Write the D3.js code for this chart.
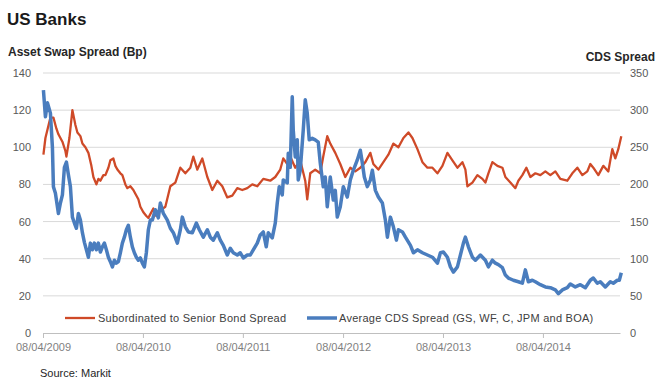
<!DOCTYPE html>
<html>
<head>
<meta charset="utf-8">
<script src="https://cdn.jsdelivr.net/npm/d3@7"></script>
<style>
  body { margin: 0; background: #fff; }
  text { font-family: "Liberation Sans", Arial, sans-serif; }
</style>
</head>
<body>
<div id="chart"></div>
<script>
// decimal years -> values
var bondYears = [2009.27,2009.29,2009.34,2009.37,2009.40,2009.42,2009.46,2009.49,2009.50,2009.53,2009.56,2009.59,2009.61,2009.64,2009.66,2009.69,2009.72,2009.75,2009.77,2009.80,2009.82,2009.84,2009.87,2009.89,2009.92,2009.94,2009.97,2009.99,
  2010.01,2010.04,2010.06,2010.09,2010.11,2010.14,2010.17,2010.19,2010.22,2010.24,2010.27,2010.30,2010.32,2010.34,2010.37,2010.40,2010.44,2010.49,2010.54,2010.59,2010.64,2010.69,2010.74,2010.77,2010.81,2010.86,2010.91,2010.96,
  2011.01,2011.06,2011.11,2011.16,2011.21,2011.26,2011.31,2011.36,2011.41,2011.47,2011.54,2011.59,2011.64,2011.67,2011.71,2011.74,2011.79,2011.84,2011.89,2011.91,2011.94,2011.99,
  2012.04,2012.07,2012.11,2012.14,2012.19,2012.24,2012.29,2012.34,2012.39,2012.44,2012.49,2012.54,2012.57,2012.62,2012.67,2012.72,2012.77,2012.82,2012.87,2012.92,2012.96,
  2013.01,2013.06,2013.11,2013.16,2013.21,2013.26,2013.31,2013.36,2013.41,2013.46,2013.49,2013.51,2013.56,2013.61,2013.66,2013.69,2013.72,2013.76,2013.81,2013.86,2013.89,2013.94,2013.99,
  2014.02,2014.06,2014.10,2014.14,2014.19,2014.24,2014.29,2014.34,2014.39,2014.44,2014.51,2014.56,2014.61,2014.66,2014.71,2014.74,2014.77,2014.82,2014.87,2014.92,2014.96,2014.99,2015.02,2015.05]
var bondSpread = [96,105,116,116,110,107,103,98,95,105,120,112,108,106,102,100,97,90,84,80,83,82,85,85,89,93,94,90,
  88,86,85,80,78,79,77,75,72,68,65,63,62,64,67,63,66,68,79,81,89,86,89,95,88,94,84,77,
  82,79,73,74,78,77,78,80,79,83,82,84,88,94,91,95,89,93,82,72,86,88,
  86,95,106,102,97,91,84,89,87,89,92,97,91,88,92,96,102,100,105,108,105,
  99,92,89,89,86,90,97,93,89,92,88,79,81,85,83,81,86,92,90,89,84,81,78,
  82,85,89,84,86,85,87,85,87,83,82,86,89,85,87,91,89,85,90,87,99,94,99,106]

var cdsYears = [2009.27,2009.29,2009.31,2009.34,2009.36,2009.37,2009.39,2009.41,2009.42,2009.44,2009.46,2009.48,2009.50,2009.52,2009.54,2009.56,2009.58,2009.60,2009.62,2009.64,2009.66,2009.68,2009.70,2009.72,2009.74,2009.76,2009.78,2009.80,2009.82,2009.84,2009.86,2009.88,2009.90,2009.92,2009.94,2009.96,2009.98,
  2010.00,2010.02,2010.04,2010.06,2010.08,2010.10,2010.12,2010.14,2010.16,2010.18,2010.20,2010.22,2010.24,2010.26,2010.28,2010.30,2010.32,2010.34,2010.36,2010.39,2010.42,2010.44,2010.47,2010.51,2010.54,2010.57,2010.61,2010.64,2010.66,2010.69,2010.72,2010.76,2010.80,2010.83,2010.87,2010.91,2010.94,2010.97,
  2011.01,2011.04,2011.07,2011.11,2011.14,2011.17,2011.21,2011.24,2011.27,2011.31,2011.34,2011.37,2011.41,2011.44,2011.47,2011.50,2011.52,2011.56,2011.59,2011.61,2011.63,2011.66,2011.67,2011.71,2011.72,2011.74,2011.76,2011.77,2011.79,2011.81,2011.82,2011.84,2011.87,2011.89,2011.91,2011.93,2011.96,2011.99,
  2012.02,2012.04,2012.07,2012.09,2012.11,2012.14,2012.17,2012.19,2012.21,2012.24,2012.27,2012.31,2012.34,2012.37,2012.41,2012.44,2012.46,2012.48,2012.51,2012.54,2012.56,2012.59,2012.62,2012.66,2012.69,2012.71,2012.74,2012.77,2012.80,2012.82,2012.86,2012.89,2012.94,2012.97,
  2013.01,2013.06,2013.11,2013.16,2013.21,2013.24,2013.27,2013.31,2013.34,2013.37,2013.41,2013.44,2013.47,2013.49,2013.52,2013.56,2013.59,2013.64,2013.69,2013.72,2013.76,2013.79,2013.82,2013.86,2013.89,2013.92,2013.97,
  2014.02,2014.06,2014.09,2014.12,2014.16,2014.19,2014.24,2014.29,2014.34,2014.39,2014.42,2014.46,2014.51,2014.54,2014.59,2014.64,2014.69,2014.74,2014.77,2014.81,2014.84,2014.89,2014.94,2014.97,2015.01,2015.03,2015.05]
var cdsSpread = [327,291,310,296,250,197,188,170,161,175,186,223,230,213,197,156,148,141,161,152,135,122,112,102,121,112,121,112,121,109,116,121,112,102,96,89,98,
  94,96,108,121,129,139,145,129,116,108,102,98,101,94,89,108,139,152,152,166,155,175,161,152,141,135,121,139,156,143,136,135,148,139,129,139,129,125,
  135,125,118,105,114,108,105,108,101,105,105,112,121,132,136,116,135,128,148,175,197,186,206,202,242,223,318,273,237,260,206,219,273,314,296,260,262,260,
  257,229,197,210,170,210,179,192,156,170,197,183,206,219,233,246,229,210,197,206,219,192,183,175,152,129,156,143,125,139,136,129,118,108,
  112,108,105,102,94,108,109,102,89,82,89,105,121,129,116,102,98,105,98,89,98,94,92,88,78,74,71,
  69,67,85,69,71,69,65,62,61,58,53,58,61,66,62,65,61,71,74,67,69,62,69,67,71,71,81]

var tickYears = [2009, 2010, 2011, 2012, 2013, 2014]
var tickLabels = ["08/04/2009", "08/04/2010", "08/04/2011", "08/04/2012", "08/04/2013", "08/04/2014"]
var leftTicks = [0, 20, 40, 60, 80, 100, 120, 140]
var rightTicks = [0, 50, 100, 150, 200, 250, 300, 350]
var seriesNames = ["Subordinated to Senior Bond Spread", "Average CDS Spread (GS, WF, C, JPM and BOA)"]

var width = 657
var height = 378
var red = "#cf4a28"
var blue = "#4a7dbe"

function yearToDate(t){
  var y = Math.floor(t)
  var start = Date.UTC(y, 0, 1), end = Date.UTC(y + 1, 0, 1)
  return new Date(start + (t - y) * (end - start))
}

var svg = d3.select("#chart")
  .append("svg")
    .attr("width", width)
    .attr("height", height)

var x = d3.scaleTime()
  .domain([new Date(Date.UTC(2009, 3, 8)), yearToDate(2015.037)])
  .range([43, 620])

var yLeft = d3.scaleLinear().domain([0, 140]).range([333, 73])
var yRight = d3.scaleLinear().domain([0, 350]).range([333, 73])

// gridlines
svg.append("g")
  .selectAll("line")
  .data(leftTicks.slice(1))
  .enter().append("line")
    .attr("x1", 43).attr("x2", 620)
    .attr("y1", d => yLeft(d)).attr("y2", d => yLeft(d))
    .attr("stroke", "#d9d9d9")
    .attr("stroke-width", 1)

// bottom axis
var tickDates = tickYears.map(y => new Date(Date.UTC(y, 3, 8)))
var xAxis = d3.axisBottom(x)
  .tickValues(tickDates)
  .tickFormat((d, i) => tickLabels[i])
  .tickSize(5)
  .tickSizeOuter(0)
var gx = svg.append("g")
  .attr("transform", "translate(0," + yLeft(0) + ")")
  .call(xAxis)
gx.select(".domain").attr("stroke", "#bfbfbf")
gx.selectAll(".tick line").attr("stroke", "#bfbfbf")
gx.selectAll(".tick text")
  .attr("fill", "#7f7f7f")
  .attr("font-size", 11)
  .attr("dy", "0.95em")

// left axis labels
var gl = svg.append("g")
  .attr("transform", "translate(31,0)")
  .call(d3.axisLeft(yLeft).tickValues(leftTicks).tickSize(0).tickPadding(0))
gl.select(".domain").remove()
gl.selectAll("text").attr("fill", "#595959").attr("font-size", 11)

// right axis labels
var gr = svg.append("g")
  .attr("transform", "translate(630,0)")
  .call(d3.axisRight(yRight).tickValues(rightTicks).tickSize(0).tickPadding(0))
gr.select(".domain").remove()
gr.selectAll("text").attr("fill", "#595959").attr("font-size", 11)

// lines
var bondLine = d3.line()
  .x((d, i) => x(yearToDate(bondYears[i])))
  .y(d => yLeft(d))
var cdsLine = d3.line()
  .x((d, i) => x(yearToDate(cdsYears[i])))
  .y(d => yRight(d))

svg.append("path")
  .datum(bondSpread)
  .attr("d", bondLine)
  .attr("fill", "none")
  .attr("stroke", red)
  .attr("stroke-width", 2.3)
  .attr("stroke-linejoin", "round")

svg.append("path")
  .datum(cdsSpread)
  .attr("d", cdsLine)
  .attr("fill", "none")
  .attr("stroke", blue)
  .attr("stroke-width", 3.5)
  .attr("stroke-linejoin", "round")

// legend
var legend = svg.append("g")
var legendItems = [
  {name: seriesNames[0], color: red, w: 2.3, x1: 65, x2: 95, tx: 98},
  {name: seriesNames[1], color: blue, w: 3.5, x1: 307, x2: 337, tx: 339}
]
legendItems.forEach(function(d){
  legend.append("line")
    .attr("x1", d.x1).attr("x2", d.x2)
    .attr("y1", 318).attr("y2", 318)
    .attr("stroke", d.color)
    .attr("stroke-width", d.w)
  legend.append("text")
    .attr("x", d.tx).attr("y", 322)
    .attr("font-size", 11)
    .attr("letter-spacing", 0.25)
    .attr("fill", "#404040")
    .text(d.name)
})

// titles
svg.append("text").attr("x", 7).attr("y", 25)
  .attr("font-size", 17).attr("font-weight", "bold").attr("fill", "#1a1a1a")
  .text("US Banks")
svg.append("text").attr("x", 8).attr("y", 56)
  .attr("font-size", 12).attr("font-weight", "bold").attr("fill", "#262626")
  .text("Asset Swap Spread (Bp)")
svg.append("text").attr("x", 655).attr("y", 61)
  .attr("text-anchor", "end")
  .attr("font-size", 12).attr("font-weight", "bold").attr("fill", "#262626")
  .text("CDS Spread")
svg.append("text").attr("x", 40).attr("y", 377)
  .attr("font-size", 11).attr("fill", "#262626")
  .text("Source: Markit")
</script>
</body>
</html>
